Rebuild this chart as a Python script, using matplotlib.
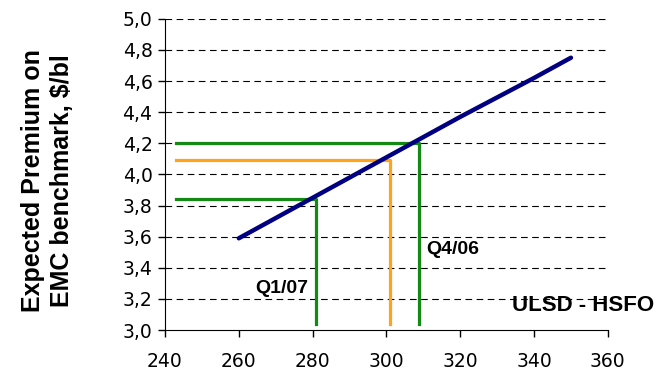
import matplotlib.pyplot as plt

# ULSD - HSFO spread vs expected premium
spread = [260, 280, 300, 320, 340, 350]
premium = [3.59, 3.85, 4.11, 4.37, 4.62, 4.75]

# guide lines: (spread, premium) reading points
q107 = (281, 3.84)
mid = (301, 4.09)
q406 = (308.7, 4.20)
guide_x0 = 243
guide_y0 = 3.04

yticks = [3.0, 3.2, 3.4, 3.6, 3.8, 4.0, 4.2, 4.4, 4.6, 4.8, 5.0]
xticks = [240, 260, 280, 300, 320, 340, 360]

plt.rcParams["font.family"] = "DejaVu Sans"
fig = plt.figure(figsize=(6.6, 3.76), dpi=100)
ax = fig.add_axes([0.25, 0.122, 0.671, 0.828])

for y in yticks[1:]:
    ax.axhline(y, color="k", lw=0.8, ls=(0, (6, 4)), zorder=1)

green = "#138a13"
orange = "#ffa31a"
for (x, y), c in [(q107, green), (mid, orange), (q406, green)]:
    ax.plot([guide_x0, x, x], [y, y, guide_y0], color=c, lw=2.3, zorder=2)

ax.plot(spread, premium, color="#000080", lw=3.2, solid_capstyle="round", zorder=3)

bold = dict(family="Liberation Sans", fontweight="bold")
ax.text(271.5, 3.27, "Q1/07", fontsize=14, ha="center", va="center", **bold)
ax.text(318, 3.52, "Q4/06", fontsize=14, ha="center", va="center", **bold)
ax.text(372.5, 3.16, "ULSD - HSFO", fontsize=16, ha="right", va="center",
        clip_on=False, **bold)

ax.set_xlim(240, 360)
ax.set_ylim(3.0, 5.0)
ax.set_xticks(xticks)
ax.set_yticks(yticks)
ax.set_yticklabels([f"{v:.1f}".replace(".", ",") for v in yticks])
ax.tick_params(labelsize=13.5, length=5, width=1, pad=4)
ax.tick_params(axis="x", pad=11)
ax.spines["top"].set_visible(False)
ax.spines["right"].set_visible(False)
ax.set_ylabel("Expected Premium on\nEMC benchmark, $/bl", fontsize=18,
              linespacing=1.25, **bold)
ax.yaxis.set_label_coords(-0.205, 0.48)

fig.savefig("out.png", dpi=100)
